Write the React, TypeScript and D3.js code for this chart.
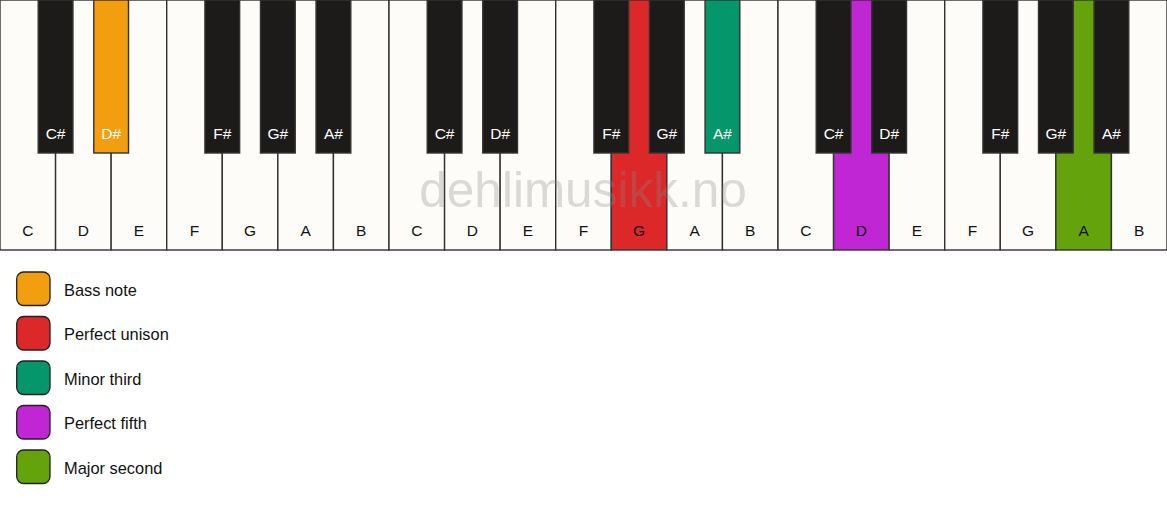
import React from "react";
import * as d3 from "d3";

const WIDTH = 1167;
const HEIGHT = 506;

const whiteNoteNames = ["C", "D", "E", "F", "G", "A", "B"];
const blackNoteNames = ["C#", "D#", "F#", "G#", "A#"];
// index of the white key each black key sits to the right of, within an octave
const blackAfterWhite = [0, 1, 3, 4, 5];
const octaves = [0, 1, 2];

const roles = ["Bass note", "Perfect unison", "Minor third", "Perfect fifth", "Major second"];
const roleColors = ["#F39E0F", "#DC2828", "#06966B", "#C026D3", "#65A30D"];

const highlightNotes = ["D#", "G", "A#", "D", "A"];
const highlightOctaves = [0, 1, 1, 2, 2];

const watermark = "dehlimusikk.no";

const KEY_H = 250;
const BLACK_H = 153;
const WHITE_FILL = "#FDFCF9";
const BLACK_FILL = "#1C1B1A";
const STROKE = "#333";
const FONT = "Liberation Sans, Arial, sans-serif";

function colorFor(note: string, octave: number): string | null {
  for (let i = 0; i < highlightNotes.length; i++) {
    if (highlightNotes[i] === note && highlightOctaves[i] === octave) return roleColors[i];
  }
  return null;
}

export default function App() {
  const whiteKeys = octaves.flatMap((o) =>
    whiteNoteNames.map((n, i) => ({ note: n, octave: o, idx: o * 7 + i }))
  );
  const blackKeys = octaves.flatMap((o) =>
    blackNoteNames.map((n, i) => ({ note: n, octave: o, idx: o * 7 + blackAfterWhite[i] }))
  );

  const x = d3
    .scaleBand<number>()
    .domain(d3.range(whiteKeys.length))
    .range([0, WIDTH])
    .paddingInner(0)
    .paddingOuter(0);
  const bw = x.bandwidth();
  const blackW = bw * 0.625;

  const legendY = d3
    .scalePoint<string>()
    .domain(roles)
    .range([272, 450]);

  return (
    <svg
      width={WIDTH}
      height={HEIGHT}
      style={{ position: "absolute", left: 0, top: 0, background: "#fff" }}
    >
      <g>
        {whiteKeys.map((k) => {
          const c = colorFor(k.note, k.octave);
          return (
            <g key={`w${k.idx}`}>
              <rect
                x={x(k.idx)!}
                y={0}
                width={bw}
                height={KEY_H}
                fill={c ?? WHITE_FILL}
                stroke={STROKE}
                strokeWidth={1.4}
              />
              <text
                x={x(k.idx)! + bw / 2}
                y={236}
                textAnchor="middle"
                fontFamily={FONT}
                fontSize={15.5}
                fill="#111"
              >
                {k.note}
              </text>
            </g>
          );
        })}
        <text
          x={583}
          y={207}
          textAnchor="middle"
          fontFamily={FONT}
          fontSize={49.5}
          fill="#888"
          fillOpacity={0.3}
        >
          {watermark}
        </text>
        {blackKeys.map((k) => {
          const c = colorFor(k.note, k.octave);
          const cx = x(k.idx)! + bw;
          return (
            <g key={`b${k.octave}-${k.note}`}>
              <rect
                x={cx - blackW / 2}
                y={0}
                width={blackW}
                height={BLACK_H}
                fill={c ?? BLACK_FILL}
                stroke={STROKE}
                strokeWidth={1.4}
              />
              <text
                x={cx}
                y={139}
                textAnchor="middle"
                fontFamily={FONT}
                fontSize={15.5}
                fill="#fff"
              >
                {k.note}
              </text>
            </g>
          );
        })}
      </g>
      <g>
        {roles.map((r, i) => (
          <g key={r}>
            <rect
              x={16.7}
              y={legendY(r)!}
              width={33.3}
              height={33.5}
              rx={7}
              ry={7}
              fill={roleColors[i]}
              stroke="#222"
              strokeWidth={1.3}
            />
            <text
              x={64}
              y={legendY(r)! + 23.7}
              fontFamily={FONT}
              fontSize={16.4}
              fill="#111"
            >
              {r}
            </text>
          </g>
        ))}
      </g>
    </svg>
  );
}
